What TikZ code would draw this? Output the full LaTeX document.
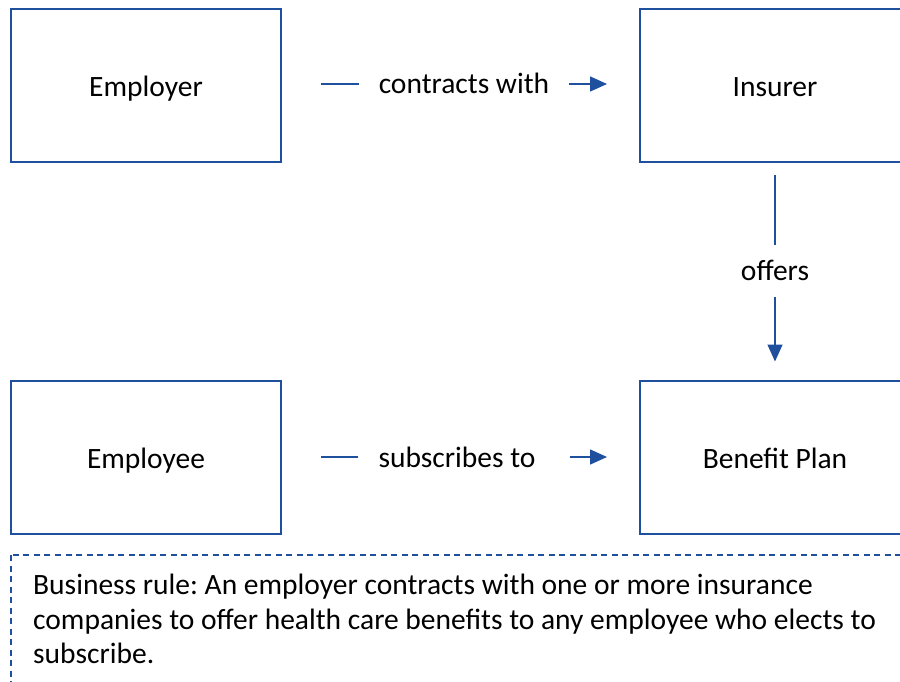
\documentclass[tikz,border=0pt]{standalone}
\usepackage{fontspec}
\setmainfont{Carlito}
\usetikzlibrary{arrows.meta}

\definecolor{lineblue}{RGB}{30,80,158}

\tikzset{
  entity/.style={draw=lineblue, line width=2pt, minimum width=270pt, minimum height=153pt,
    inner sep=0pt, text height=26pt, text depth=4pt},
  verb/.style={inner sep=0pt, text height=23pt, text depth=3pt},
  link/.style={draw=lineblue, line width=1.5pt},
  tip/.style={-{Triangle[length=17pt,width=15pt]}},
  rulebox/.style={draw=lineblue, line width=2pt, dash pattern={on 6pt off 4.5pt}}
}

\begin{document}
\frenchspacing
\begin{tikzpicture}[x=1pt,y=1pt,yscale=-1,font=\fontsize{29.5}{34.5}\selectfont]
\path[use as bounding box] (0,0) rectangle (900,682);
\clip (0,0) rectangle (900,682);

% the four entities
\node[entity] (employer) at (146,86)  {Employer};
\node[entity] (insurer)  at (775,86)  {Insurer};
\node[entity] (employee) at (146,457) {Employee};
\node[entity] (plan)     at (775,457) {Benefit Plan};

% relation labels
\node[verb] (contracts)  at (464,84)  {contracts with};
\node[verb] (offers)     at (775,270) {offers};
\node[verb] (subscribes) at (457,457) {subscribes to};

% connectors, broken around the labels
\draw[link, shorten <=39pt, shorten >=20pt] (contracts.west -| employer.east) -- (contracts.west);
\draw[link, tip, shorten <=20pt, shorten >=32pt] (contracts.east) -- (contracts.east -| insurer.west);
\draw[link, shorten <=12pt, shorten >=12pt] (insurer.south) -- (offers.north);
\draw[link, tip, shorten <=14pt, shorten >=18pt] (offers.south) -- (plan.north);
\draw[link, shorten <=39pt, shorten >=20pt] (employee.east) -- (subscribes.west);
\draw[link, tip, shorten <=34pt, shorten >=32pt] (subscribes.east) -- (plan.west);

% business rule note
\draw[rulebox] (11,555) rectangle (920,700);
\node[anchor=north west, align=left, inner sep=0pt] (rule) at (33,574)
  {Business rule: An employer contracts with one or more insurance\\
   companies to offer health care benefits to any employee who elects to\\
   subscribe.};

\end{tikzpicture}
\end{document}
